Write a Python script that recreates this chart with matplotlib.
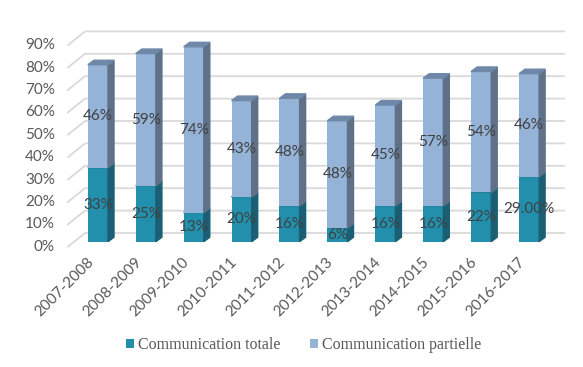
import numpy as np
import matplotlib.pyplot as plt
from matplotlib.patches import Polygon

# Data
years = ['2007-2008', '2008-2009', '2009-2010', '2010-2011', '2011-2012',
         '2012-2013', '2013-2014', '2014-2015', '2015-2016', '2016-2017']
totale = [33, 25, 13, 20, 16, 6, 16, 16, 22, 29]
partielle = [46, 59, 74, 43, 48, 48, 45, 57, 54, 46]
totale_labels = ['33%', '25%', '13%', '20%', '16%', '6%', '16%', '16%', '22%', '29.00%']
partielle_labels = ['46%', '59%', '74%', '43%', '48%', '48%', '45%', '57%', '54%', '46%']
yticks = [0, 10, 20, 30, 40, 50, 60, 70, 80, 90]

plt.rcParams['font.family'] = ['Lato', 'DejaVu Sans']

fig = plt.figure(figsize=(5.83, 3.67), dpi=100)
ax = fig.add_axes([74 / 583, 125.3 / 367, 479 / 583, 201.6 / 367])
ax.set_xlim(-0.5, 9.5)
ax.set_ylim(0, 90)
ax.axis('off')

# pixel -> data conversions
px_x = 1 / 47.9
px_y = 1 / 2.24

grid_col = '#d9d9d9'
back_dy = 8.7 * px_y
front_dy = -5.0 * px_y
for v in yticks:
    ax.plot([-0.5 - 6 * px_x, -0.5 + 11 * px_x, 9.5 + 11 * px_x],
            [v + front_dy, v + back_dy, v + back_dy],
            color=grid_col, lw=1.3, clip_on=False, zorder=0)
    ax.text(-0.5 - 19 * px_x, v + front_dy, f'{v}%', ha='right', va='center',
            fontsize=11, color='#595959')

x = np.arange(len(years))
w = 0.42
dx = 6 * px_x
dy = 4.5 * px_y

tot_front, tot_side, tot_top = '#2290ac', '#1a5f73', '#2a7c93'
par_front, par_side, par_top = '#95b3d7', '#5e7189', '#7088a8'


def draw_seg(xc, y0, h, front, side, top):
    xl, xr = xc - w / 2, xc + w / 2
    ax.bar(xc, h, w, bottom=y0, color=front, zorder=3, clip_on=False)
    ax.add_patch(Polygon([(xr, y0), (xr + dx, y0 + dy), (xr + dx, y0 + h + dy), (xr, y0 + h)],
                         closed=True, color=side, zorder=3, clip_on=False))
    ax.add_patch(Polygon([(xl, y0 + h), (xl + dx, y0 + h + dy), (xr + dx, y0 + h + dy), (xr, y0 + h)],
                         closed=True, color=top, zorder=3, clip_on=False))


for i in range(len(years)):
    draw_seg(x[i], 0, totale[i], tot_front, tot_side, tot_top)
    draw_seg(x[i], totale[i], partielle[i], par_front, par_side, par_top)
    ax.text(x[i], totale[i] / 2, totale_labels[i], ha='center', va='center',
            fontsize=11, color='#404040', zorder=5)
    ax.text(x[i], totale[i] + partielle[i] / 2, partielle_labels[i], ha='center', va='center',
            fontsize=11, color='#404040', zorder=5)
    ax.text(x[i] - 0.24, -6, years[i], rotation=45, ha='right', va='top',
            rotation_mode='anchor', fontsize=11, color='#595959')

# legend
h1 = ax.bar([0], [0], color=tot_front, label='Communication totale')
h2 = ax.bar([0], [0], color=par_front, label='Communication partielle')
fig.legend(handles=[h1, h2], loc='center', bbox_to_anchor=(0.521, 1 - 345 / 367), ncol=2,
           frameon=False, handlelength=0.5, handleheight=0.5,
           handletextpad=0.25, columnspacing=1.9, labelcolor='#595959',
           prop={'family': 'Liberation Serif', 'size': 11.5})

plt.savefig('out.png', dpi=100)
